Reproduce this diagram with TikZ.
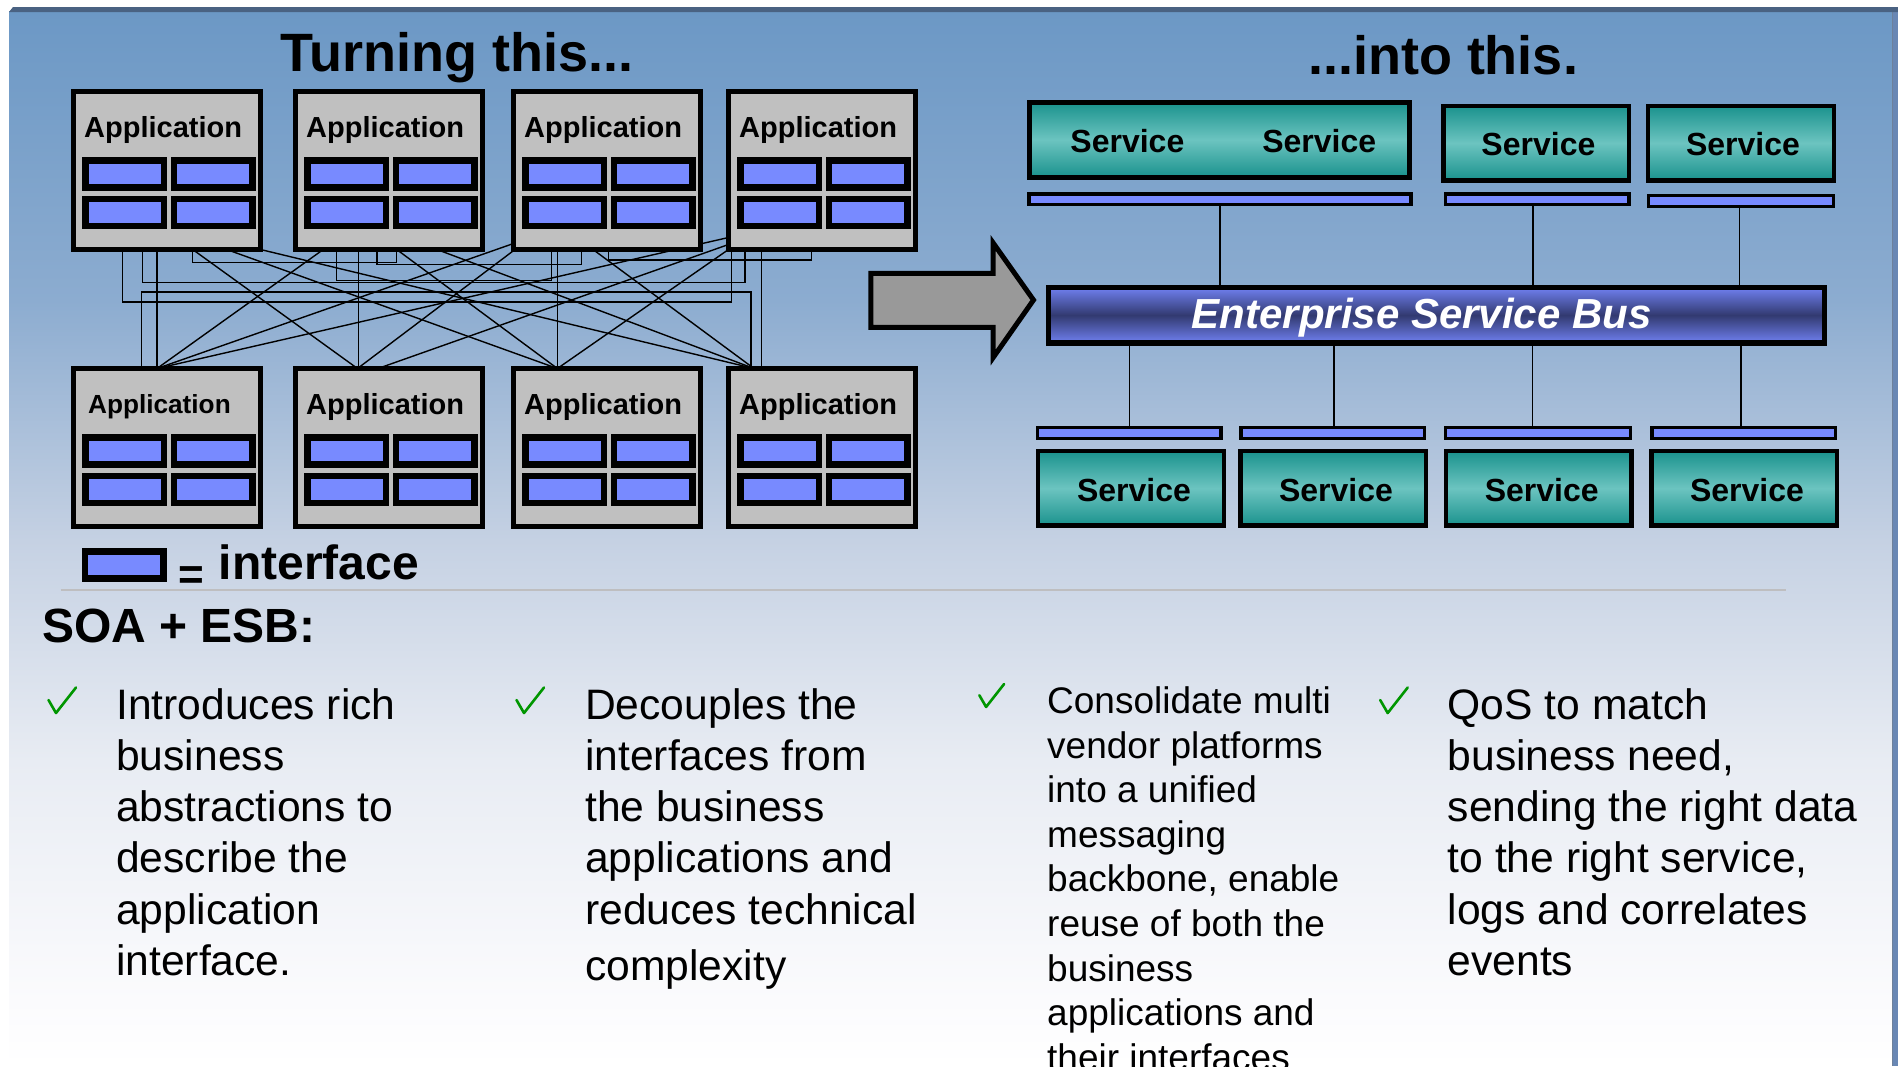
\documentclass[tikz,border=0pt]{standalone}
\usepackage{fontspec}
\setmainfont{Liberation Sans}
\usetikzlibrary{calc}
\pgfdeclarelayer{bg}
\pgfdeclarelayer{wires}
\pgfsetlayers{bg,wires,main}

\definecolor{slotblue}{RGB}{120,138,255}
\definecolor{appgray}{RGB}{192,192,192}
\definecolor{arrowgray}{RGB}{153,153,153}
\definecolor{tealdark}{RGB}{26,146,141}
\definecolor{teallight}{RGB}{108,196,192}
\definecolor{esblight}{RGB}{112,128,240}
\definecolor{esbdark}{RGB}{50,58,112}
\definecolor{checkgreen}{RGB}{0,150,0}
\definecolor{rulegray}{RGB}{190,190,192}
\definecolor{framedark}{RGB}{74,98,130}
\definecolor{framestrip}{RGB}{105,135,180}
\definecolor{bgA}{RGB}{108,152,197}
\definecolor{bgB}{RGB}{140,172,208}
\definecolor{bgC}{RGB}{197,209,227}
\definecolor{bgD}{RGB}{232,236,243}
\definecolor{bgE}{RGB}{251,251,253}

\tikzset{
  appbox/.style={rectangle, draw=black, line width=5pt, fill=appgray,
    inner sep=0pt, outer sep=0pt, minimum width=187pt, minimum height=158pt,
    anchor=north west},
  slot/.style={rectangle, draw=black, line width=6.5pt, fill=slotblue,
    inner sep=0pt, outer sep=0pt, minimum width=78.5pt, minimum height=27pt,
    anchor=north west},
  ifbar/.style={rectangle, draw=black, line width=3.5pt, fill=slotblue,
    inner sep=0pt, outer sep=0pt, anchor=north west},
  svcbox/.style={rectangle, draw=black, line width=4.5pt,
    top color=tealdark, bottom color=tealdark, middle color=teallight,
    inner sep=0pt, outer sep=0pt, minimum height=74.8pt, anchor=north west},
  busbox/.style={rectangle, draw=black, line width=5.5pt,
    top color=esblight, bottom color=esblight, middle color=esbdark,
    inner sep=0pt, outer sep=0pt, anchor=north west},
  wire/.style={draw=black, line width=1.4pt},
  link/.style={draw=black, line width=1.7pt},
  apptext/.style={font=\fontsize{29}{34}\selectfont\bfseries, inner sep=0pt, anchor=base west},
  svctext/.style={font=\fontsize{32}{38}\selectfont\bfseries, inner sep=0pt, anchor=base},
  titletext/.style={font=\fontsize{54}{62}\selectfont\bfseries, inner sep=0pt, anchor=base},
  bigtext/.style={font=\fontsize{48}{56}\selectfont\bfseries, inner sep=0pt, anchor=base west},
  itemtext/.style={font=\fontsize{42.6}{50}\selectfont, inner sep=0pt, anchor=base west},
  smallitem/.style={font=\fontsize{37}{44}\selectfont, inner sep=0pt, anchor=base west},
  tick/.style={draw=checkgreen, line width=2.6pt, line cap=round, line join=round},
}

\begin{document}
\begin{tikzpicture}[x=1pt,y=-1pt]
\useasboundingbox (0,0) rectangle (1898,1066);

% ---------------- application boxes ----------------
\foreach \n/\x/\y in {t1/73.5/91.5, t2/295.5/91.5, t3/513.5/91.5, t4/728.5/91.5,
                      b1/73.5/368.5, b2/295.5/368.5, b3/513.5/368.5, b4/728.5/368.5}
  \node[appbox] (\n) at (\x,\y) {};

\foreach \n in {t1,t2,t3,t4,b1,b2,b3,b4}
  \foreach \c/\cx in {1/12.05,2/100.45}
    \foreach \r/\ry in {1/68.75,2/107.45}
      \node[slot] (\n-s\r\c) at ($(\n.north west)+(\cx,\ry)$) {};

\foreach \n in {t1,t2,t3,t4,b2,b3,b4}
  \node[apptext] (\n-lab) at ($(\n.north west)+(10.5,45.5)$) {Application};
\node[apptext, font=\fontsize{26.2}{30}\selectfont\bfseries] (b1-lab)
  at ($(b1.north west)+(14.4,44.8)$) {Application};

% ---------------- titles ----------------
\node[titletext] (title-left) at (457,71) {Turning this...};
\node[titletext] (title-right) at (1443,74) {...into this.};

% ---------------- services and bus ----------------
\node[svcbox, minimum width=380pt, minimum height=75pt] (s1) at (1029.25,102.25) {};
\node[svcbox, minimum width=185.5pt, minimum height=74.5pt] (s2) at (1443.25,105.75) {};
\node[svcbox, minimum width=186pt, minimum height=74.5pt] (s3) at (1647.75,105.75) {};
\node[svcbox, minimum width=186pt] (s4) at (1038.05,450.85) {};
\node[svcbox, minimum width=185.5pt] (s5) at (1240.55,450.85) {};
\node[svcbox, minimum width=185.5pt] (s6) at (1445.75,450.85) {};
\node[svcbox, minimum width=185.5pt] (s7) at (1651.65,450.85) {};

\node[svctext] (s1-laba) at (1127.4,152.9) {Service};
\node[svctext] (s1-labb) at (1319.2,152.9) {Service};
\node[svctext] (s2-lab) at (1538.4,155.7) {Service};
\node[svctext] (s3-lab) at (1743,155.7) {Service};
\node[svctext] (s4-lab) at (1134,501.8) {Service};
\node[svctext] (s5-lab) at (1336,501.8) {Service};
\node[svctext] (s6-lab) at (1541.7,501.8) {Service};
\node[svctext] (s7-lab) at (1747,501.8) {Service};

\node[ifbar, minimum width=382.2pt, minimum height=10.9pt] (i1) at (1028.75,193.75) {};
\node[ifbar, minimum width=183.6pt, minimum height=10.9pt] (i2) at (1445.25,193.75) {};
\node[ifbar, minimum width=185.1pt, minimum height=10.9pt] (i3) at (1648.35,195.35) {};
\node[ifbar, minimum width=183.6pt, minimum height=11.2pt] (i4) at (1037.55,427.45) {};
\node[ifbar, minimum width=183.5pt, minimum height=11.2pt] (i5) at (1240.75,427.45) {};
\node[ifbar, minimum width=185pt, minimum height=11.2pt] (i6) at (1445.25,427.45) {};
\node[ifbar, minimum width=183.5pt, minimum height=11.2pt] (i7) at (1651.75,427.45) {};

\node[busbox, minimum width=775.8pt, minimum height=55.6pt] (esb) at (1048.55,287.35) {};
\node[font=\fontsize{42}{48}\selectfont\bfseries\itshape, text=white,
      inner sep=0pt, anchor=base] (esb-lab) at (1421.8,328.6) {Enterprise Service Bus};

% ---------------- legend and bullet list ----------------
\node[slot] (legslot) at (85.05,551.65) {};
\node[font=\fontsize{44}{50}\selectfont\bfseries, inner sep=0pt, anchor=base west]
  (legeq) at (178,589) {=};
\node[bigtext] (legtxt) at (218.5,579.6) {interface};
\node[bigtext] (soa) at (42,642) {SOA + ESB:};

\foreach \t [count=\k from 0] in {Introduces rich, business, abstractions to,
    describe the, application, interface.}
  \node[itemtext] (c1-\k) at (116,719+51.3*\k) {\t};
\foreach \t [count=\k from 0] in {Decouples the, interfaces from, the business,
    applications and, reduces technical}
  \node[itemtext] (c2-\k) at (585,719+51.3*\k) {\t};
\node[itemtext] (c2-5) at (585,980.5) {complexity};
\foreach \t [count=\k from 0] in {Consolidate multi, vendor platforms, into a unified,
    messaging, {backbone, enable}, reuse of both the, business, applications and,
    their interfaces}
  \node[smallitem] (c3-\k) at (1047,713.5+44.6*\k) {\t};
\foreach \t [count=\k from 0] in {QoS to match, {business need,},
    sending the right data, {to the right service,}, logs and correlates, events}
  \node[itemtext] (c4-\k) at (1447.5,719+51.3*\k) {\t};

% check marks
\foreach \ox/\oy/\s in {47/687.5/1, 515/687.5/1, 978/684/0.9, 1378.7/687.5/1}
  \draw[tick] (\ox+1.5*\s,\oy+12.5*\s) -- (\ox+9*\s,\oy+25.5*\s) -- (\ox+29*\s,\oy);

% transformation arrow
\draw[line width=5pt, fill=arrowgray, line join=miter]
  (870.9,273.3) -- (993.2,273.3) -- (993.2,243) -- (1033.5,300)
  -- (993.2,357.5) -- (993.2,327.4) -- (870.9,327.4) -- cycle;

% ---------------- background ----------------
\begin{pgfonlayer}{bg}
  \fill[white] (0,0) rectangle (1898,1066);
  \fill[top color=bgA, bottom color=bgB] (9,11.5) rectangle (1893,300.5);
  \fill[top color=bgB, bottom color=bgC] (9,300) rectangle (1893,540.5);
  \fill[top color=bgC, bottom color=bgD] (9,540) rectangle (1893,760.5);
  \fill[top color=bgD, bottom color=bgE] (9,760) rectangle (1893,1000.5);
  \fill[top color=bgE, bottom color=white] (9,1000) rectangle (1893,1066);
  \fill[framestrip] (1893,12) rectangle (1898,1066);
  \draw[framedark!80, line width=0.8pt] (1892.6,12) -- (1892.6,1066);
  \fill[framedark] (9,12) -- (13,7) -- (1898,7) -- (1898,12) -- cycle;
  \draw[rulegray, line width=2pt] (60.6,590.3) -- (1786,590.3);
\end{pgfonlayer}

% ---------------- wiring ----------------
\begin{pgfonlayer}{wires}
  \coordinate (cb1) at ($(b1.north west)+(83.5,0)$);
  \coordinate (cb2) at ($(b2.north west)+(62,0)$);
  \coordinate (cb2b) at ($(b2.north west)+(82.5,0)$);
  \coordinate (cb3) at ($(b3.north west)+(43.9,0)$);
  \coordinate (cb4) at ($(b4.north west)+(25.5,0)$);

  % point-to-point mesh, straight drops
  \draw[wire] (cb1 |- t1.south) -- (cb1);
  \draw[wire] ($(t2.south west)+(62.8,0)$) -- ($(b2.north west)+(62.8,0)$);
  \draw[wire] (cb3 |- t3.south) -- (cb3);
  \draw[wire] ($(t4.south west)+(33.2,0)$) -- ($(b4.north west)+(33.2,0)$);

  % point-to-point mesh, diagonals
  \draw[wire] ($(t1.south west)+(119.2,0)$) -- (cb2);
  \draw[wire] ($(t1.south west)+(153.2,0)$) -- (cb3);
  \draw[wire] (t1.south east) -- (cb4);
  \draw[wire] ($(t2.south west)+(27.8,0)$) -- (cb1);
  \draw[wire] ($(t2.south west)+(101.2,0)$) -- (cb3);
  \draw[wire] ($(t2.south west)+(141.5,0)$) -- (cb4);
  \draw[wire] ($(t3.south west)+(0,-6)$) -- (cb1);
  \draw[wire] ($(t3.south west)+(1.5,0)$) -- (cb2);
  \draw[wire] ($(t3.south west)+(79.5,0)$) -- (cb4);
  \draw[wire] ($(t4.south west)+(0,-12)$) -- (cb1);
  \draw[wire] ($(t4.south west)+(0,-5)$) -- (cb2b);
  \draw[wire] (t4.south west) -- (cb3);

  % routed links between boxes of the same row
  \draw[wire] ($(t1.south west)+(119.2,0)$) -- ++(0,13) -| ($(t2.south west)+(101.2,0)$);
  \draw[wire] ($(t2.south west)+(81.5,0)$) -- ++(0,14.8) -| ($(t3.south west)+(68.2,0)$);
  \draw[wire] ($(t3.south west)+(94.8,0)$) -- ++(0,10.5) -| ($(t4.south west)+(83.2,0)$);
  \draw[wire] ($(t2.south west)+(41.2,0)$) -- ++(0,30.9) -| ($(t3.south west)+(38.2,0)$);
  \draw[wire] ($(t1.south west)+(69.2,0)$) -- ++(0,33) -| ($(t4.south west)+(16.5,0)$);
  \draw[wire] ($(b1.north west)+(67.8,0)$) -- ++(0,-76.5) -| ($(b4.north west)+(22.5,0)$);
  \draw[wire] ($(t1.south west)+(49.2,0)$) -- ++(0,52.5) -| ($(t4.south west)+(3.2,0)$);

  % bus attachments
  \draw[link] (i1.south) -- (i1.south |- esb.north);
  \draw[link] ($(i2.south)+(-4,0)$) -- ($(i2.south |- esb.north)+(-4,0)$);
  \draw[link] ($(i3.south)+(-1.3,0)$) -- ($(i3.south |- esb.north)+(-1.3,0)$);
  \draw[link] (esb.south -| i4.north) -- (i4.north);
  \draw[link] ($(esb.south -| i5.north)+(1.4,0)$) -- ($(i5.north)+(1.4,0)$);
  \draw[link] ($(esb.south -| i6.north)+(-5.3,0)$) -- ($(i6.north)+(-5.3,0)$);
  \draw[link] ($(esb.south -| i7.north)+(-2.6,0)$) -- ($(i7.north)+(-2.6,0)$);
\end{pgfonlayer}
\end{tikzpicture}
\end{document}
